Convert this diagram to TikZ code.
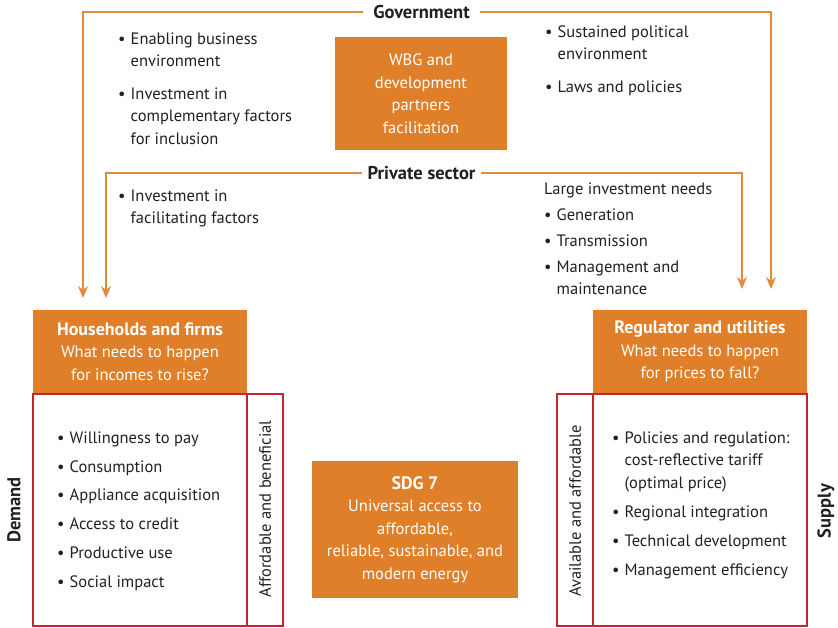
\documentclass[tikz,border=0pt]{standalone}
\usepackage{fontspec}
\setmainfont{PT Sans}
\usetikzlibrary{arrows.meta}
\definecolor{orng}{HTML}{E07F2A}
\definecolor{lorng}{HTML}{E38B3C}
\definecolor{redb}{HTML}{C1272D}
\definecolor{txt}{HTML}{231F20}
\newcommand\bi{\makebox[12.5pt][l]{•}}
\newcommand\ind{\hspace*{12.5pt}}
\newcommand\bt[1]{{\fontsize{18}{22.5}\selectfont\bfseries #1}}
\begin{document}
\begin{tikzpicture}[x=1pt,y=-1pt,
  every node/.style={font=\fontsize{16.5}{22.5}\selectfont, text=txt, inner sep=0pt},
  obox/.style={fill=orng, text=white, align=center},
  rbox/.style={draw=redb, line width=1.6pt},
  lst/.style={align=left, anchor=north west},
  lbl/.style={font=\fontsize{18.5}{22}\selectfont\bfseries},
  conn/.style={draw=lorng, line width=1.6pt, -{Stealth[length=12pt,width=10pt]}},
]
\useasboundingbox (0,0) rectangle (838,628);

% labels on lines
\node[lbl, inner xsep=10pt] (gov) at (421.5,12) {Government};
\node[lbl, inner xsep=5.5pt] (priv) at (421.5,173) {Private sector};

% target coordinates
\coordinate (g1) at (83,298);
\coordinate (p1) at (106,298);
\coordinate (p2) at (742,289);
\coordinate (g2) at (771,289);

\draw[conn] (gov.west) -| (g1);
\draw[conn] (gov.east) -| (g2);
\draw[conn] (priv.west) -| (p1);
\draw[conn] (priv.east) -| (p2);

% WBG box
\node[obox, minimum width=172pt, minimum height=113pt] (wbg) at (421,93.5)
  {WBG and\\development\\partners\\facilitation};

% text lists at top
\node[lst] (tl) at (118,32.5) {\bi Enabling business\\\ind environment\\[10pt]
  \bi Investment in\\\ind complementary factors\\\ind for inclusion};
\node[lst] (tr) at (545,25.5) {\bi Sustained political\\\ind environment\\[10pt]
  \bi Laws and policies};
\node[lst] (pl) at (118,189.5) {\bi Investment in\\\ind facilitating factors};
\node[lst] (pr) at (544,182.5) {Large investment needs\\[3.5pt]
  \bi Generation\\[3.5pt]\bi Transmission\\[3.5pt]
  \bi Management and\\\ind maintenance};

% Households and firms
\node[obox, minimum width=214pt, minimum height=83pt] (hh) at (140,351.5)
  {\bt{Households and firms}\\What needs to happen\\for incomes to rise?};
\node[obox, minimum width=214pt, minimum height=83pt] (ru) at (700,351.5)
  {\bt{Regulator and utilities}\\What needs to happen\\for prices to fall?};

% demand boxes
\node[rbox, minimum width=214pt, minimum height=232pt] (dem) at (140,510) {};
\node[rbox, minimum width=36pt, minimum height=232pt] (demside) at (265,510) {};
\node[rotate=90] (demtxt) at (265,509) {Affordable and beneficial};
\node[lst] (demlist) at (57,431.5) {\bi Willingness to pay\\[6.3pt]
  \bi Consumption\\[6.3pt]\bi Appliance acquisition\\[6.3pt]
  \bi Access to credit\\[6.3pt]\bi Productive use\\[6.3pt]\bi Social impact};

% supply boxes
\node[rbox, minimum width=214pt, minimum height=232pt] (sup) at (700,510) {};
\node[rbox, minimum width=36pt, minimum height=232pt] (supside) at (575,510) {};
\node[rotate=90] (suptxt) at (575,511) {Available and affordable};
\node[lst] (suplist) at (612,431.5) {\bi Policies and regulation:\\\ind cost-reflective tariff\\\ind (optimal price)\\[6.5pt]
  \bi Regional integration\\[6.5pt]\bi Technical development\\[6.5pt]\bi Management efficiency};

% SDG 7
\node[obox, minimum width=206pt, minimum height=137pt] (sdg) at (415,529.5)
  {\bt{SDG 7}\\Universal access to\\affordable,\\reliable, sustainable, and\\modern energy};

% side labels
\node[lbl, rotate=90] (demand) at (14,510) {Demand};
\node[lbl, rotate=90] (supply) at (826,511) {Supply};
\end{tikzpicture}
\end{document}
